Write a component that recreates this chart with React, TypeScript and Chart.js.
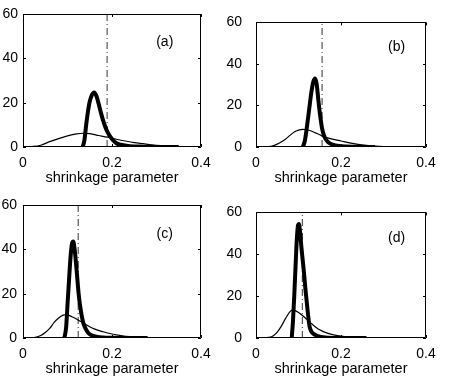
import React, { useEffect, useRef } from "react";
import { Chart, registerables } from "chart.js";

Chart.register(...registerables);

// ---- data ----
const xTicks = [0, 0.2, 0.4];
const yTicks = [0, 20, 40, 60];
const xAxisTitle = "shrinkage parameter";
const panelLabels = ["(a)", "(b)", "(c)", "(d)"];
const labelXs = [0.3185, 0.331, 0.3185, 0.331];
const labelYs = [47.5, 48, 47, 47.5];
const refLineX = [0.189, 0.1555, 0.124, 0.109];

const aThickX = [0.134, 0.138, 0.142, 0.146, 0.15, 0.155, 0.16, 0.165, 0.17, 0.175, 0.18, 0.185, 0.19, 0.2, 0.21, 0.22, 0.24, 0.27, 0.3, 0.35];
const aThickY = [0, 3, 10, 16, 20.5, 23.5, 24.6, 23, 19.5, 15.5, 12, 9, 6.7, 3.6, 1.7, 1.0, 0.35, 0.15, 0.05, 0];
const aThinX = [0, 0.02, 0.04, 0.06, 0.08, 0.1, 0.12, 0.135, 0.15, 0.17, 0.19, 0.21, 0.23, 0.25, 0.27, 0.29, 0.31, 0.33, 0.35, 0.38];
const aThinY = [0, 0.2, 0.8, 2.4, 3.8, 5.0, 5.9, 6.2, 6.0, 5.2, 4.4, 3.5, 2.7, 2.0, 1.5, 1.0, 0.65, 0.4, 0.2, 0.05];

const bThickX = [0.11, 0.115, 0.12, 0.125, 0.13, 0.135, 0.139, 0.143, 0.147, 0.151, 0.155, 0.16, 0.165, 0.17, 0.18, 0.2, 0.23, 0.28];
const bThickY = [0, 3, 10, 18, 26, 31.5, 33, 30, 22, 15, 9.5, 5.5, 3.5, 2.3, 1.1, 0.4, 0.1, 0];
const bThinX = [0, 0.02, 0.03, 0.04, 0.05, 0.06, 0.07, 0.08, 0.09, 0.1, 0.11, 0.12, 0.13, 0.14, 0.15, 0.16, 0.18, 0.2, 0.22, 0.24, 0.26, 0.28, 0.3, 0.33, 0.36];
const bThinY = [0, 0.05, 0.2, 0.6, 1.4, 2.5, 3.9, 5.6, 7.2, 8.1, 8.5, 8.3, 7.7, 6.8, 5.9, 5.0, 3.8, 2.9, 2.0, 1.3, 0.8, 0.45, 0.25, 0.1, 0];

const cThickX = [0.093, 0.097, 0.1, 0.104, 0.107, 0.11, 0.113, 0.116, 0.119, 0.122, 0.125, 0.128, 0.132, 0.136, 0.14, 0.145, 0.15, 0.16, 0.18, 0.22, 0.28];
const cThickY = [0, 5, 15, 28, 37, 42.5, 43.5, 40, 34, 27, 20, 15, 10, 6.5, 4.5, 2.8, 1.7, 0.8, 0.25, 0.05, 0];
const cThinX = [0, 0.02, 0.03, 0.04, 0.05, 0.06, 0.07, 0.08, 0.09, 0.095, 0.1, 0.11, 0.12, 0.13, 0.14, 0.15, 0.16, 0.18, 0.2, 0.22, 0.24, 0.26, 0.28, 0.32, 0.36];
const cThinY = [0, 0.1, 0.4, 1.1, 2.5, 4.3, 7.0, 9.0, 10.3, 10.5, 10.4, 9.6, 8.6, 7.4, 6.2, 5.1, 4.1, 2.8, 1.8, 1.1, 0.6, 0.35, 0.2, 0.05, 0];

const dThickX = [0.084, 0.087, 0.09, 0.093, 0.096, 0.099, 0.101, 0.104, 0.107, 0.11, 0.113, 0.116, 0.119, 0.122, 0.126, 0.13, 0.135, 0.14, 0.15, 0.17, 0.2, 0.26];
const dThickY = [0, 8, 20, 34, 47, 54, 54.5, 50, 43, 37, 31, 24, 18, 12, 5.5, 3.2, 2.0, 1.4, 0.6, 0.15, 0.05, 0];
const dThinX = [0, 0.02, 0.03, 0.04, 0.05, 0.06, 0.07, 0.08, 0.085, 0.09, 0.1, 0.11, 0.12, 0.13, 0.14, 0.15, 0.16, 0.18, 0.2, 0.22, 0.24, 0.27, 0.3];
const dThinY = [0, 0.05, 0.3, 1.0, 2.8, 5.8, 9.5, 12.6, 13.3, 13.2, 12.2, 10.6, 8.8, 7.0, 5.3, 3.9, 2.9, 1.6, 0.9, 0.5, 0.3, 0.1, 0];

const thickXs = [aThickX, bThickX, cThickX, dThickX];
const thickYs = [aThickY, bThickY, cThickY, dThickY];
const thinXs = [aThinX, bThinX, cThinX, dThinX];
const thinYs = [aThinY, bThinY, cThinY, dThinY];

// ---- layout (positions only) ----
const FONT = '"Liberation Sans", Arial, Helvetica, sans-serif';
const boxes = [
  { left: 0, top: 0, w: 225, h: 190, yW: 23, yPad: 5, padTop: 14, xH: 43 },
  { left: 225, top: 0, w: 225, h: 190, yW: 31, yPad: 14, padTop: 16, xH: 43 },
  { left: 0, top: 190, w: 225, h: 191, yW: 23, yPad: 6, padTop: 15, xH: 43 },
  { left: 225, top: 190, w: 225, h: 191, yW: 31, yPad: 14, padTop: 15, xH: 43 },
];

const zip = (xs: number[], ys: number[]) => xs.map((x, i) => ({ x, y: ys[i] }));

function Panel({ idx }: { idx: number }) {
  const ref = useRef<HTMLCanvasElement>(null);
  const b = boxes[idx];
  useEffect(() => {
    const frame = {
      id: "frame" + idx,
      afterDraw(chart: any) {
        const { ctx, chartArea } = chart;
        const { left, right, top, bottom } = chartArea;
        const xs = chart.scales.x;
        const ys = chart.scales.y;
        ctx.save();
        ctx.strokeStyle = "#000";
        ctx.lineWidth = 1;
        ctx.beginPath();
        ctx.rect(Math.round(left) + 0.5, Math.round(top) + 0.5, Math.round(right) - Math.round(left) - 1, Math.round(bottom) - Math.round(top) - 1);
        ctx.stroke();
        const tl = 3;
        ctx.beginPath();
        xTicks.forEach((v) => {
          const p = Math.round(xs.getPixelForValue(v)) + 0.5;
          ctx.moveTo(p, bottom);
          ctx.lineTo(p, bottom - tl);
          ctx.moveTo(p, top);
          ctx.lineTo(p, top + tl);
        });
        yTicks.forEach((v) => {
          const p = Math.round(ys.getPixelForValue(v)) + 0.5;
          ctx.moveTo(left, p);
          ctx.lineTo(left + tl, p);
          ctx.moveTo(right, p);
          ctx.lineTo(right - tl, p);
        });
        ctx.stroke();
        ctx.fillStyle = "#000";
        ctx.font = `14px ${FONT}`;
        ctx.textAlign = "center";
        ctx.textBaseline = "middle";
        ctx.fillText(panelLabels[idx], xs.getPixelForValue(labelXs[idx]), ys.getPixelForValue(labelYs[idx]));
        ctx.restore();
      },
    };
    const chart = new Chart(ref.current as HTMLCanvasElement, {
      type: "line",
      data: {
        datasets: [
          {
            data: zip(thickXs[idx], thickYs[idx]),
            borderColor: "#000",
            borderWidth: 4,
            pointRadius: 0,
            cubicInterpolationMode: "monotone",
            fill: false,
          },
          {
            data: zip(thinXs[idx], thinYs[idx]),
            borderColor: "#000",
            borderWidth: 1.2,
            pointRadius: 0,
            cubicInterpolationMode: "monotone",
            fill: false,
          },
          {
            data: [
              { x: refLineX[idx], y: 0 },
              { x: refLineX[idx], y: 60 },
            ],
            borderColor: "#333",
            borderWidth: 1,
            borderDash: [7, 3, 1, 3],
            pointRadius: 0,
            fill: false,
          },
        ],
      },
      options: {
        animation: false,
        responsive: false,
        events: [],
        layout: { padding: { top: b.padTop, right: 24, left: 0, bottom: 0 } },
        plugins: { legend: { display: false }, tooltip: { enabled: false } },
        scales: {
          x: {
            type: "linear",
            min: 0,
            max: 0.4,
            afterBuildTicks: (s: any) => {
              s.ticks = xTicks.map((v) => ({ value: v }));
            },
            afterFit: (s: any) => {
              s.height = b.xH;
            },
            ticks: {
              color: "#000",
              font: { family: FONT, size: 14 },
              padding: 8,
              maxRotation: 0,
              autoSkip: false,
              callback: (v: any) => String(v),
            },
            grid: { display: false, drawTicks: false },
            border: { display: false },
            title: {
              display: true,
              text: xAxisTitle,
              color: "#000",
              font: { family: FONT, size: 14.5 },
              padding: { top: 0, bottom: 3 },
            },
          },
          y: {
            type: "linear",
            min: 0,
            max: 60,
            afterBuildTicks: (s: any) => {
              s.ticks = yTicks.map((v) => ({ value: v }));
            },
            afterFit: (s: any) => {
              s.width = b.yW;
            },
            ticks: {
              color: "#000",
              font: { family: FONT, size: 14 },
              padding: b.yPad,
              autoSkip: false,
              callback: (v: any) => String(v),
            },
            grid: { display: false, drawTicks: false },
            border: { display: false },
          },
        },
      },
      plugins: [frame],
    } as any);
    return () => chart.destroy();
  }, [idx]);
  return (
    <div style={{ position: "absolute", left: b.left, top: b.top, width: b.w, height: b.h }}>
      <canvas ref={ref} width={b.w} height={b.h} style={{ display: "block" }} />
    </div>
  );
}

export default function App() {
  return (
    <div style={{ position: "absolute", left: 0, top: 0, width: 450, height: 381, background: "#fff" }}>
      {[0, 1, 2, 3].map((i) => (
        <Panel key={i} idx={i} />
      ))}
    </div>
  );
}
